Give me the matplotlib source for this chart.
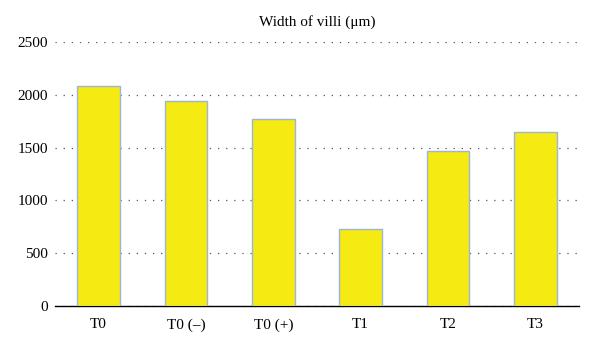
import matplotlib
matplotlib.use("Agg")
import matplotlib.pyplot as plt

categories = ["T0", "T0 (\u2013)", "T0 (+)", "T1", "T2", "T3"]
values = [2085, 1945, 1775, 725, 1465, 1650]
yticks = [0, 500, 1000, 1500, 2000, 2500]
title = "Width of villi (\u03bcm)"

plt.rcParams['font.family'] = ['Liberation Serif', 'DejaVu Serif']

fig = plt.figure(figsize=(6.0, 3.54), dpi=100)
ax = fig.add_axes([55/600, 1-306/354, (579-55)/600, (306-42)/354])

x = range(len(categories))
ax.bar(x, values, width=0.49, color="#F5EA12", edgecolor="#9DB5D8", linewidth=1.0, zorder=3)
ax.set_xlim(-0.5, len(categories)-0.5)
ax.set_ylim(0, 2500)
ax.set_yticks(yticks)
ax.set_yticklabels([str(t) for t in yticks], fontsize=11)
ax.set_xticks(list(x))
ax.set_xticklabels(categories, fontsize=11)
ax.yaxis.grid(True, linestyle=(0, (1, 5.5)), color="#555555", linewidth=0.9, zorder=0)
ax.set_axisbelow(True)
for s in ["top", "right", "left"]:
    ax.spines[s].set_visible(False)
ax.spines["bottom"].set_color("black")
ax.spines["bottom"].set_linewidth(1.0)
ax.tick_params(axis="both", length=0, pad=5)
ax.tick_params(axis="x", pad=9)
ax.set_title(title, fontsize=11, pad=12)

fig.savefig("out.png", dpi=100)
